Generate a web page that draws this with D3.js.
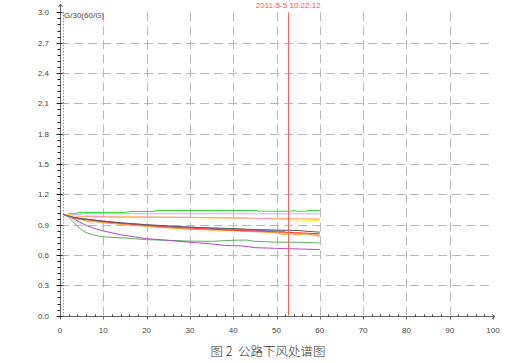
<!DOCTYPE html>
<html lang="zh">
<head>
<meta charset="UTF-8">
<title>公路下风处谱图</title>
<script src="https://d3js.org/d3.v7.min.js"></script>
<style>
    body { margin: 0; background: #fff; }
    .tick-label { font-family: "Liberation Sans", Arial, sans-serif; font-size: 8px; fill: #444; }
    .grid line { stroke: #b8b8b8; stroke-width: 1; stroke-dasharray: 9 5; }
    .caption { font-family: "Noto Sans CJK SC", serif; font-size: 12.5px; font-weight: 300; fill: #333; white-space: pre; }
</style>
</head>
<body>
<svg id="chart" width="532" height="363"></svg>
<script>
    // axis ticks
    const xTicks = [0, 10, 20, 30, 40, 50, 60, 70, 80, 90, 100];
    const yTicks = [0.0, 0.3, 0.6, 0.9, 1.2, 1.5, 1.8, 2.1, 2.4, 2.7, 3.0];
    const markerX = 52.7;          // red time marker
    const startX = 0.8;            // blue dotted start marker
    const markerLabel = "2011-5-5 10:22:12";
    const yLabel = "G/30(60/G)";
    const caption = "图 2  公路下风处谱图";

    // series: [time, ratio]
    const lime = [[0.8,1.0],[2,1.01],[4,1.02],[15,1.025],[16,1.03],[21.5,1.03],[22,1.04],[45,1.04],[45.5,1.033],[53,1.033],[53.5,1.038],[54.5,1.033],[56.5,1.033],[57,1.04],[60,1.04]];
    const lavender = [[0.8,1.0],[3,1.0],[5,1.012],[6,1.008],[20,1.008],[40,1.007],[60,1.006]];
    const salmon = [[0.8,1.0],[4,0.985],[8,0.978],[20,0.975],[30,0.972],[38,0.968],[45,0.962],[52,0.958],[60,0.955]];
    const yellow = [[0.8,1.0],[4,0.99],[10,0.985],[20,0.975],[30,0.97],[40,0.965],[45,0.96],[50,0.952],[55,0.946],[60,0.94]];
    const pink = [[6,0.985],[10,0.978],[14,0.976],[28,0.972],[32,0.972],[46,0.962],[49,0.96]];
    const dark = [[0.8,1.0],[3,0.975],[5,0.96],[10,0.935],[15,0.915],[20,0.9],[25,0.888],[30,0.876],[35,0.868],[40,0.862],[45,0.852],[50,0.847],[55,0.842],[58,0.832],[60,0.826]];
    const red = [[0.8,1.0],[3,0.97],[5,0.955],[10,0.93],[15,0.91],[20,0.893],[25,0.878],[30,0.866],[35,0.856],[40,0.846],[45,0.838],[50,0.83],[55,0.82],[60,0.81]];
    const orange = [[0.8,1.0],[3,0.965],[5,0.95],[7,0.925],[8,0.93],[10,0.92],[15,0.9],[20,0.882],[25,0.868],[30,0.855],[35,0.846],[40,0.84],[45,0.83],[50,0.822],[51.5,0.8],[53,0.812],[55,0.8],[57,0.81],[60,0.785]];
    const peach = [[0.8,1.0],[4,0.96],[8,0.935],[12,0.915],[20,0.89],[28,0.862],[32,0.855],[40,0.843],[48,0.828],[54,0.818],[60,0.8]];
    const blue = [[4,0.965],[8,0.945],[12,0.925],[18,0.905],[22,0.89],[26,0.882],[36,0.862],[42,0.85],[48,0.84],[50,0.838],[52,0.835]];
    const green = [[0.8,1.0],[2,0.975],[3,0.93],[4,0.885],[5,0.848],[6,0.822],[8,0.795],[10,0.78],[15,0.768],[20,0.752],[25,0.745],[30,0.738],[35,0.735],[40,0.746],[43,0.748],[45,0.735],[50,0.727],[55,0.726],[60,0.719]];
    const magenta = [[0.8,1.0],[2,0.985],[3.5,0.95],[5,0.915],[6.5,0.885],[8,0.862],[10,0.838],[14,0.8],[20,0.762],[25,0.745],[28,0.733],[32,0.72],[35,0.71],[38,0.695],[42,0.69],[45,0.673],[50,0.666],[55,0.66],[60,0.654]];

    const series = [
        { data: lime, color: "#30e030", step: true },
        { data: lavender, color: "#b4b4ff", step: true },
        { data: salmon, color: "#ff8a50" },
        { data: yellow, color: "#ffff30" },
        { data: pink, color: "#ff90c8" },
        { data: peach, color: "#ffb070" },
        { data: orange, color: "#ff9a20" },
        { data: blue, color: "#6a6aff" },
        { data: red, color: "#ff3a3a" },
        { data: dark, color: "#5a5a5a" },
        { data: green, color: "#5cb05c" },
        { data: magenta, color: "#b448c4" }
    ];

    const svg = d3.select("#chart");
    const x = d3.scaleLinear().domain([0, 100]).range([60, 493]);
    const y = d3.scaleLinear().domain([0, 3]).range([315.7, 12.3]);

    // grid
    const grid = svg.append("g").attr("class", "grid");
    grid.selectAll(".hg")
        .data(yTicks.filter(v => v > 0 && v < 3))
        .enter().append("line")
        .attr("x1", x(0)).attr("x2", x(100))
        .attr("y1", d => Math.round(y(d)) + 0.5).attr("y2", d => Math.round(y(d)) + 0.5);
    grid.selectAll(".vg")
        .data(xTicks.filter(v => v > 0 && v < 100))
        .enter().append("line")
        .attr("x1", d => Math.round(x(d)) + 0.5).attr("x2", d => Math.round(x(d)) + 0.5)
        .attr("y1", y(3)).attr("y2", y(0));

    // blue dotted start line
    svg.append("line")
        .attr("x1", Math.round(x(startX)) + 0.5).attr("x2", Math.round(x(startX)) + 0.5)
        .attr("y1", y(3)).attr("y2", y(0))
        .attr("stroke", "#4a4aff").attr("stroke-dasharray", "1 2");

    // series
    series.forEach(s => {
        const line = d3.line()
            .x(d => x(d[0]))
            .y(d => y(d[1]))
            .curve(s.step ? d3.curveStepAfter : d3.curveLinear);
        svg.append("path")
            .datum(s.data)
            .attr("fill", "none")
            .attr("stroke", s.color)
            .attr("stroke-width", 1)
            .attr("d", line);
    });

    // red marker
    svg.append("line")
        .attr("x1", Math.round(x(markerX)) + 0.5).attr("x2", Math.round(x(markerX)) + 0.5)
        .attr("y1", y(3)).attr("y2", y(0))
        .attr("stroke", "#ff6060");
    svg.append("text")
        .attr("x", x(markerX)).attr("y", 8)
        .attr("text-anchor", "middle")
        .attr("class", "tick-label")
        .style("fill", "#ff5050")
        .text(markerLabel);

    // axes
    const axisColor = "#666";
    const y0 = Math.round(y(0)) + 0.5;
    const x0 = Math.round(x(0)) + 0.5;
    svg.append("line").attr("x1", x0).attr("x2", 495).attr("y1", y0).attr("y2", y0).attr("stroke", axisColor);
    svg.append("line").attr("x1", x0).attr("x2", x0).attr("y1", y0).attr("y2", 4).attr("stroke", axisColor);
    svg.append("path").attr("d", `M${x0 - 2},7 L${x0},4 L${x0 + 2},7`).attr("fill", "none").attr("stroke", axisColor);
    svg.append("path").attr("d", `M492,${y0 - 2} L495,${y0} L492,${y0 + 2}`).attr("fill", "none").attr("stroke", axisColor);

    // x ticks
    svg.selectAll(".xmin")
        .data(d3.range(2, 100, 2).filter(v => v % 10 !== 0))
        .enter().append("line")
        .attr("x1", d => Math.round(x(d)) + 0.5).attr("x2", d => Math.round(x(d)) + 0.5)
        .attr("y1", y0 - 2).attr("y2", y0)
        .attr("stroke", "#333");
    svg.selectAll(".xmaj")
        .data(xTicks)
        .enter().append("line")
        .attr("x1", d => Math.round(x(d)) + 0.5).attr("x2", d => Math.round(x(d)) + 0.5)
        .attr("y1", y0).attr("y2", y0 + 3)
        .attr("stroke", axisColor);
    svg.selectAll(".xl")
        .data(xTicks)
        .enter().append("text")
        .attr("class", "tick-label")
        .attr("x", d => x(d)).attr("y", 333)
        .attr("text-anchor", "middle")
        .text(d => d);

    // y ticks
    svg.selectAll(".ymin")
        .data(d3.range(0, 3.001, 0.06).filter(v => Math.abs(v / 0.3 - Math.round(v / 0.3)) > 0.01))
        .enter().append("line")
        .attr("x1", x0 - 3).attr("x2", x0)
        .attr("y1", d => Math.round(y(d)) + 0.5).attr("y2", d => Math.round(y(d)) + 0.5)
        .attr("stroke", "#222");
    svg.selectAll(".ymaj")
        .data(yTicks)
        .enter().append("line")
        .attr("x1", x0 - 4).attr("x2", x0 + 2)
        .attr("y1", d => Math.round(y(d)) + 0.5).attr("y2", d => Math.round(y(d)) + 0.5)
        .attr("stroke", "#222");
    svg.selectAll(".yl")
        .data(yTicks)
        .enter().append("text")
        .attr("class", "tick-label")
        .attr("x", 49).attr("y", d => y(d) + 3)
        .attr("text-anchor", "end")
        .text(d => d.toFixed(1));

    svg.append("text")
        .attr("class", "tick-label")
        .attr("x", 64).attr("y", 18)
        .text(yLabel);

    svg.append("text")
        .attr("class", "caption")
        .attr("x", 268).attr("y", 356)
        .attr("text-anchor", "middle")
        .text(caption);
</script>
</body>
</html>
